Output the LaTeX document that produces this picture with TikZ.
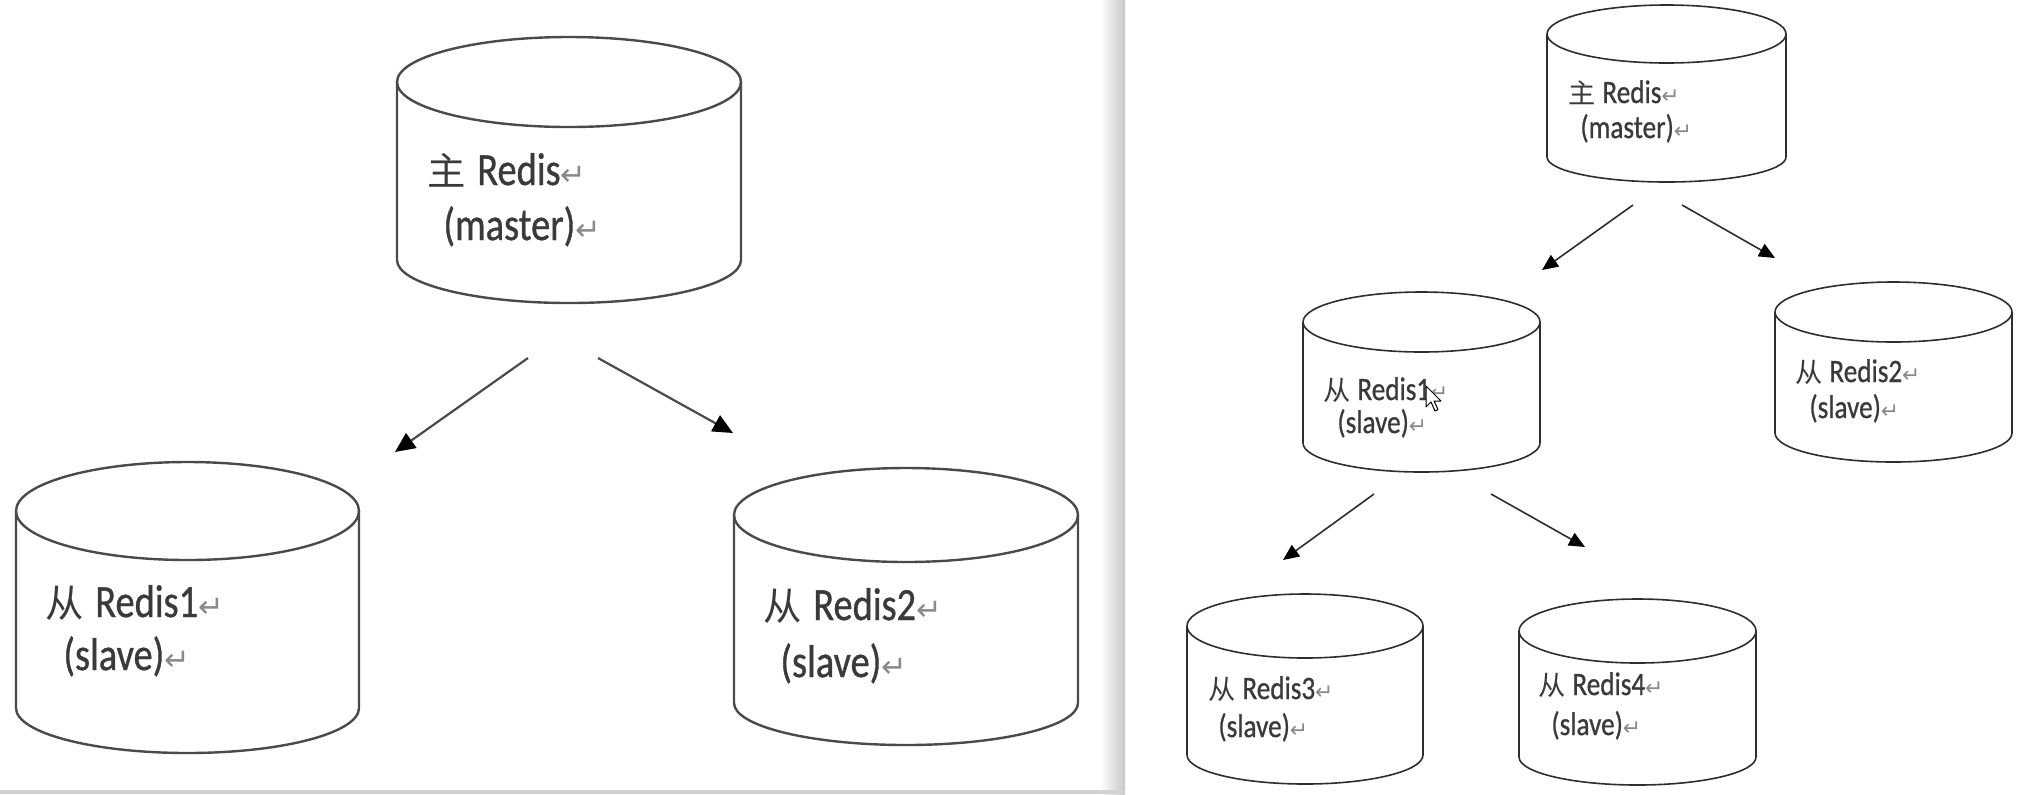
\documentclass[tikz,border=0pt]{standalone}
\usepackage{fontspec}
\usepackage{graphicx}
\setmainfont{Carlito}[FakeBold=0.9]
\newfontfamily\cjkf{Noto Sans CJK SC}
\newfontfamily\symf{DejaVu Sans}
\usetikzlibrary{arrows.meta}
\definecolor{linec}{HTML}{4A4A4A}
\definecolor{linecr}{HTML}{2E2E2E}
\definecolor{txtc}{HTML}{3A3A3A}
\definecolor{retc}{HTML}{8A8A8A}
\definecolor{bandc}{HTML}{D2D2D2}
\newcommand{\lat}[1]{\scalebox{1}[1.2]{\addfontfeatures{FakeBold=0.9}#1}}
\newcommand{\ret}{{\symf\color{retc}\scalebox{0.8}{↵}}}
\newcommand{\drawcyl}[7]{%
  \fill[white] ({#1-#2},#3) -- ({#1-#2},#5) arc[start angle=180,end angle=0,x radius=#2,y radius=#6] -- ({#1+#2},#3) arc[start angle=0,end angle=-180,x radius=#2,y radius=#4] -- cycle;
  \draw[#7] ({#1-#2},#3) -- ({#1-#2},#5) arc[start angle=180,end angle=0,x radius=#2,y radius=#6] -- ({#1+#2},#3);
  \draw[#7] (#1,#3) ellipse[x radius=#2, y radius=#4];
}
\tikzset{
  cylL/.style={draw=linec, line width=1.2pt},
  cylR/.style={draw=linecr, line width=0.8pt},
  lblL/.style={anchor=base west, inner sep=0pt, text=txtc, font=\fontsize{19.2pt}{23pt}\selectfont},
  lblR/.style={anchor=base west, inner sep=0pt, text=txtc, font=\fontsize{13.6pt}{16pt}\selectfont},
  arrL/.style={draw=linec, line width=1.1pt, -{Triangle[length=10pt,width=9pt,fill=black,color=black]}},
  arrR/.style={draw=linecr, line width=0.8pt, -{Triangle[length=8pt,width=7pt,fill=black,color=black]}},
}
\begin{document}
\begin{tikzpicture}[x=0.5pt,y=-0.5pt]
\useasboundingbox (0,0) rectangle (2032,794);
\fill[white] (0,0) rectangle (2032,794);
% left panel frame
\shade[left color=white, right color=black!22] (1100,0) rectangle (1125,794);
\fill[bandc] (0,790) rectangle (1125,794);

% ---------- left panel ----------
\drawcyl{569}{172}{82}{45}{260}{43}{cylL}
\coordinate (Lm) at (569,170);
\node[lblL] (Lm1) at (427,185) {{\cjkf 主}\hspace{0.3em}\lat{Redis}\ret};
\node[lblL] (Lm2) at (443,240) {\lat{(master)}\ret};

\drawcyl{187.5}{171.5}{511}{49}{708}{45}{cylL}
\coordinate (Ls1) at (187.5,610);
\node[lblL] (Ls1a) at (45,617) {{\cjkf 从}\hspace{0.3em}\lat{Redis1}\ret};
\node[lblL] (Ls1b) at (63,670) {\lat{(slave)}\ret};

\drawcyl{906}{172}{515}{47}{703}{42}{cylL}
\coordinate (Ls2) at (906,610);
\node[lblL] (Ls2a) at (763,620) {{\cjkf 从}\hspace{0.3em}\lat{Redis2}\ret};
\node[lblL] (Ls2b) at (780,677) {\lat{(slave)}\ret};

\coordinate (La1s) at (528,358);
\coordinate (La1e) at (395,452);
\coordinate (La2s) at (598,358);
\coordinate (La2e) at (733,433);
\draw[arrL] (La1s) -- (La1e);
\draw[arrL] (La2s) -- (La2e);

% ---------- right panel ----------
\drawcyl{1666.5}{119.5}{34}{29}{157}{25}{cylR}
\node[lblR] (Rm1) at (1568,103) {{\cjkf 主}\hspace{0.25em}\lat{Redis}\ret};
\node[lblR] (Rm2) at (1580,138) {\lat{(master)}\ret};

\drawcyl{1421.5}{118.5}{322}{30}{443}{29}{cylR}
\node[lblR] (R1a) at (1323,400) {{\cjkf 从}\hspace{0.25em}\lat{Redis1}\ret};
\node[lblR] (R1b) at (1337,433) {\lat{(slave)}\ret};

\drawcyl{1893.5}{118.5}{312}{30}{433}{29}{cylR}
\node[lblR] (R2a) at (1795,382) {{\cjkf 从}\hspace{0.25em}\lat{Redis2}\ret};
\node[lblR] (R2b) at (1809,418) {\lat{(slave)}\ret};

\drawcyl{1305}{118}{626}{32}{755}{29}{cylR}
\node[lblR] (R3a) at (1208,699) {{\cjkf 从}\hspace{0.25em}\lat{Redis3}\ret};
\node[lblR] (R3b) at (1218,737) {\lat{(slave)}\ret};

\drawcyl{1637.5}{118.5}{631}{32}{757}{28}{cylR}
\node[lblR] (R4a) at (1538,695) {{\cjkf 从}\hspace{0.25em}\lat{Redis4}\ret};
\node[lblR] (R4b) at (1551,735) {\lat{(slave)}\ret};

\coordinate (Ra1s) at (1633,205);
\coordinate (Ra1e) at (1542,270);
\coordinate (Ra2s) at (1682,205);
\coordinate (Ra2e) at (1775,258);
\coordinate (Ra3s) at (1374,494);
\coordinate (Ra3e) at (1283,560);
\coordinate (Ra4s) at (1491,494);
\coordinate (Ra4e) at (1585,547);
\draw[arrR] (Ra1s) -- (Ra1e);
\draw[arrR] (Ra2s) -- (Ra2e);
\draw[arrR] (Ra3s) -- (Ra3e);
\draw[arrR] (Ra4s) -- (Ra4e);

% mouse pointer
\draw[fill=white, draw=black, line width=0.5pt, line join=round]
  (1426,386) -- ++(0,21) -- ++(5,-5) -- ++(4,9) -- ++(3,-1.5) -- ++(-4,-8.5) -- ++(7,0) -- cycle;
\end{tikzpicture}
\end{document}
